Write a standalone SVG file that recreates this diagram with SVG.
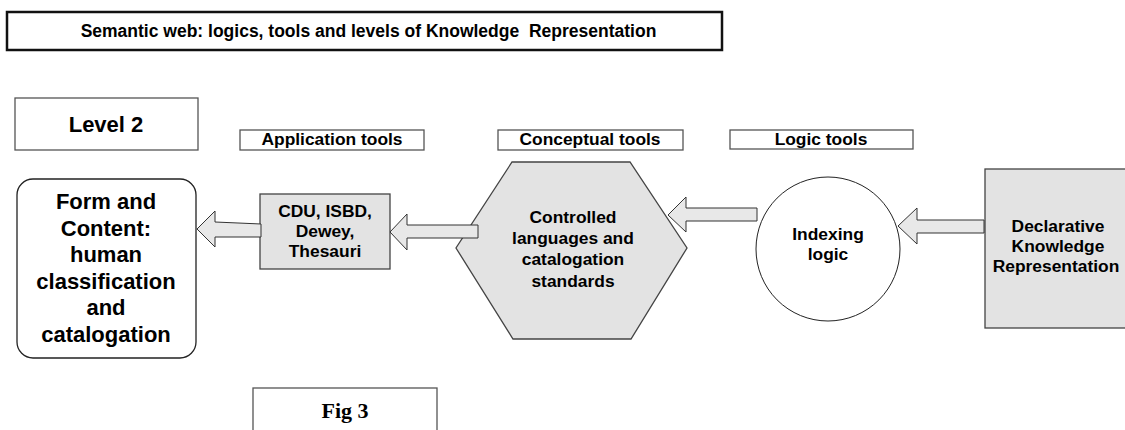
<svg xmlns="http://www.w3.org/2000/svg" width="1125" height="430" viewBox="0 0 1125 430">
<style>
text{font-family:"Liberation Sans",Arial,sans-serif;font-weight:bold;fill:#000;text-anchor:middle}
.box{fill:#fff;stroke:#555;stroke-width:1.3}
.gray{fill:#e3e3e3;stroke:#444;stroke-width:1.3}
.arrow{fill:#e8e8e8;stroke:#333;stroke-width:1}
.t22{font-size:22px}
.t17{font-size:17.4px}
</style>
<rect width="1125" height="430" fill="#fff"/>
<g id="title">
<rect x="7" y="12" width="715" height="38" fill="#fff" stroke="#111" stroke-width="2.5"/>
<text x="368.5" y="37" style="font-size:17.5px;white-space:pre">Semantic web: logics, tools and levels of Knowledge  Representation</text>
</g>
<g id="level2">
<rect class="box" x="15" y="98" width="183" height="52"/>
<text class="t22" x="106" y="132">Level 2</text>
</g>
<g id="app-tools">
<rect class="box" x="240" y="130" width="184" height="20"/>
<text class="t17" x="332" y="145">Application tools</text>
</g>
<g id="concept-tools">
<rect class="box" x="498" y="130" width="185" height="20"/>
<text class="t17" x="590" y="145">Conceptual tools</text>
</g>
<g id="logic-tools">
<rect class="box" x="730" y="130" width="183" height="19"/>
<text class="t17" x="821" y="145">Logic tools</text>
</g>
<g id="form-content">
<rect x="17" y="179" width="179" height="179" rx="16" fill="#fff" stroke="#222" stroke-width="1.3"/>
<text class="t22" x="106" y="209">Form and</text>
<text class="t22" x="106" y="236">Content:</text>
<text class="t22" x="106" y="262">human</text>
<text class="t22" x="106" y="289">classification</text>
<text class="t22" x="106" y="315">and</text>
<text class="t22" x="106" y="342">catalogation</text>
</g>
<g id="cdu">
<rect class="gray" x="260" y="194" width="130" height="75"/>
<text class="t17" x="325" y="217">CDU, ISBD,</text>
<text class="t17" x="325" y="237">Dewey,</text>
<text class="t17" x="325" y="257">Thesauri</text>
</g>
<g id="controlled">
<polygon class="gray" points="512,162 630,162 687,248 631,339 513,339 456,248" stroke="#555" stroke-width="1"/>
<text class="t17" x="573" y="223">Controlled</text>
<text class="t17" x="573" y="244">languages and</text>
<text class="t17" x="573" y="265">catalogation</text>
<text class="t17" x="573" y="287">standards</text>
</g>
<g id="indexing">
<circle cx="828" cy="249" r="72" fill="#fff" stroke="#222" stroke-width="1"/>
<text class="t17" x="828" y="240">Indexing</text>
<text class="t17" x="828" y="260">logic</text>
</g>
<g id="declarative">
<rect class="gray" x="985" y="169" width="150" height="159"/>
<text class="t17" x="1058" y="232">Declarative</text>
<text class="t17" x="1058" y="252">Knowledge</text>
<text class="t17" x="1056" y="272">Representation</text>
</g>
<g id="fig3">
<rect class="box" x="253" y="388" width="184" height="50"/>
<text x="345" y="418" style="font-family:'Liberation Serif','Times New Roman',serif;font-size:22px">Fig 3</text>
</g>
<g id="connectors">
<polygon class="arrow" points="197,229 215,211 215,222 261,224 261,237 215,237 215,247"/>
<polygon class="arrow" points="390,232 407,214 407,225 478,225 478,238 407,238 407,250"/>
<polygon class="arrow" points="668,215 686,197 686,208 757,208 757,221 686,221 686,232"/>
<polygon class="arrow" points="898,226 917,208 917,220 984,220 984,233 917,233 917,244"/>
</g>
</svg>
